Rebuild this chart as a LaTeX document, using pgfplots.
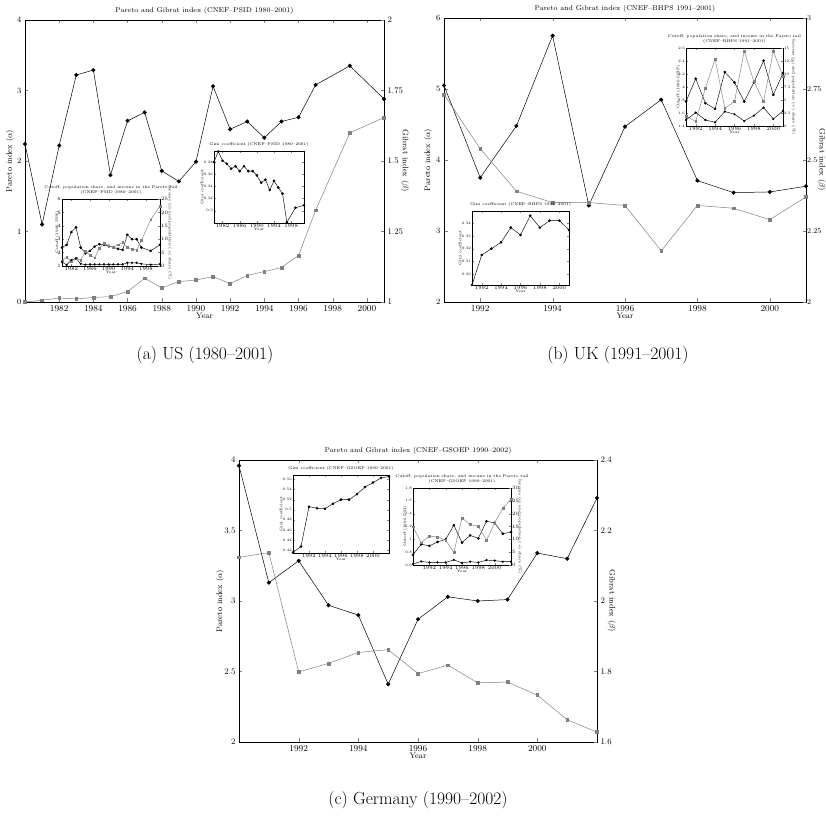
\documentclass[border=0pt]{standalone}
\usepackage{pgfplots}
\pgfplotsset{compat=1.18}

\definecolor{gib}{gray}{0.5}

\pgfplotsset{
  base/.style={
    scale only axis,
    tick align=inside,
    /pgf/number format/fixed,
    /pgf/number format/1000 sep={},
    scaled ticks=false,
    line width=0.45pt,
  },
  mainL/.style={base,
    major tick length=3.5pt,
    xticklabel style={font=\fontsize{9}{10}\selectfont},
    yticklabel style={font=\fontsize{8.5}{10}\selectfont},
    label style={font=\fontsize{8}{10}\selectfont},
    title style={font=\fontsize{7}{8}\selectfont, yshift=-4pt},
    xtick pos=both, ytick pos=left,
    xlabel={Year},
    xlabel style={yshift=5pt},
  },
  mainR/.style={base,
    major tick length=3.5pt,
    yticklabel style={font=\fontsize{8.5}{10}\selectfont},
    label style={font=\fontsize{8}{10}\selectfont},
    axis x line=none, axis y line*=right,
  },
  insetL/.style={base,
    axis background/.style={fill=white},
    major tick length=1.6pt,
    tick label style={font=\fontsize{3.6}{4}\selectfont, inner sep=1pt},
    label style={font=\fontsize{3.8}{4.5}\selectfont},
    title style={font=\fontsize{4}{4.6}\selectfont, align=center, yshift=-5pt},
    xtick pos=both,
    xlabel={Year},
    xlabel style={yshift=4pt},
    ylabel style={yshift=-4pt},
  },
  insetR/.style={base,
    major tick length=1.6pt,
    tick label style={font=\fontsize{3.6}{4}\selectfont, inner sep=1pt},
    label style={font=\fontsize{3.8}{4.5}\selectfont},
    axis x line=none, axis y line*=right,
  },
  rlabel/.style={ylabel style={at={(axis description cs:#1,0.5)}, anchor=center, rotate=180}},
  llabel/.style={ylabel style={at={(axis description cs:#1,0.5)}, anchor=center}},
  pareto/.style={black, line width=0.5pt, mark=*, mark size=1.8pt, mark options={solid, fill=black}},
  gibrat/.style={gib, line width=0.5pt, mark=square*, mark size=1.4pt, mark options={solid, fill=gib}},
  cut/.style={black, line width=0.45pt, mark=*, mark size=1.1pt, mark options={solid, fill=black}},
  inc/.style={gib, line width=0.45pt, mark=square*, mark size=0.9pt, mark options={solid, fill=gib}},
  pop/.style={black, line width=0.45pt, mark=*, mark size=0.9pt, mark options={solid, fill=black}},
}

\begin{document}
\begin{tikzpicture}
\path[use as bounding box] (0,0) rectangle (825pt,827pt);

% ---------------- (a) US ----------------
\begin{axis}[mainL, at={(25pt,525pt)}, anchor=south west, width=359pt, height=282pt,
  xmin=1980, xmax=2001, ymin=0, ymax=4,
  xtick={1982,1984,...,2000}, ytick={0,1,2,3,4},
  llabel=-0.042,
  ylabel={Pareto index ($\alpha$)},
  title={Pareto and Gibrat index (CNEF--PSID 1980--2001)}]
\addplot[pareto] coordinates {
 (1980,2.24) (1981,1.10) (1982,2.22) (1983,3.22) (1984,3.29) (1985,1.80)
 (1986,2.57) (1987,2.69) (1988,1.86) (1989,1.71) (1990,1.99) (1991,3.06)
 (1992,2.45) (1993,2.56) (1994,2.33) (1995,2.56) (1996,2.62) (1997,3.08)
 (1999,3.35) (2001,2.88)};
\end{axis}
\begin{axis}[mainR, at={(25pt,525pt)}, anchor=south west, width=359pt, height=282pt,
  xmin=1980, xmax=2001, ymin=1, ymax=2,
  ytick={1,1.25,1.5,1.75,2}, yticklabels={1,1.25,1.5,1.75,2},
  rlabel=1.058,
  ylabel={Gibrat index ($\beta$)}]
\addplot[gibrat] coordinates {
 (1980,1.000) (1981,1.006) (1982,1.014) (1983,1.011) (1984,1.016) (1985,1.019)
 (1986,1.037) (1987,1.084) (1988,1.050) (1989,1.072) (1990,1.078) (1991,1.090)
 (1992,1.065) (1993,1.094) (1994,1.108) (1995,1.122) (1996,1.165) (1997,1.325)
 (1999,1.600) (2001,1.654)};
\end{axis}

% inset: cutoff, population share and income (PSID)
\begin{axis}[insetL, at={(62pt,561pt)}, anchor=south west, width=98pt, height=67pt,
  xmin=1980, xmax=2001, ymin=1, ymax=6, ytick={1,...,6}, ytick pos=left,
  xtick={1982,1986,1990,1994,1998},
  llabel=-0.09,
  ylabel={Cutoff (1996 US\$)},
  title style={yshift=0pt},
  title={Cutoff, population share, and income in the Pareto tail\\(CNEF--PSID 1980--2001)}]
\addplot[cut] coordinates {
 (1980,2.38) (1981,2.58) (1982,3.53) (1983,3.88) (1984,2.38) (1985,1.95)
 (1986,2.13) (1987,2.45) (1988,2.63) (1989,2.58) (1990,2.50) (1991,2.40)
 (1992,2.28) (1993,2.20) (1994,3.33) (1995,3.00) (1996,3.00) (1997,2.38)
 (1999,2.13) (2001,2.58)};
\node[font=\fontsize{3.6}{4}\selectfont, anchor=south west, inner sep=0.5pt] at (rel axis cs:0,1) {$\times10^4$};
\end{axis}
\begin{axis}[insetR, at={(62pt,561pt)}, anchor=south west, width=98pt, height=67pt,
  xmin=1980, xmax=2001, ymin=0, ymax=25, ytick={0,5,...,25},
  rlabel=1.10,
  ylabel={Income (o) and population (+) share (\%)}]
\addplot[inc] coordinates {
 (1980,2.0) (1981,3.3) (1982,1.6) (1983,2.9) (1984,2.2) (1985,5.4)
 (1986,4.1) (1987,3.1) (1988,6.6) (1989,8.5) (1990,7.5) (1991,7.0)
 (1992,7.9) (1993,8.8) (1994,7.0) (1995,6.3) (1996,6.0) (1997,9.5)
 (1999,17.3) (2001,22.3)};
\addplot[pop] coordinates {
 (1980,1.5) (1981,0.4) (1982,2.2) (1983,2.9) (1984,0.8) (1985,0.5)
 (1986,0.6) (1987,0.6) (1988,0.6) (1989,0.6) (1990,0.6) (1991,0.6)
 (1992,0.6) (1993,0.6) (1994,1.2) (1995,1.2) (1996,1.2) (1997,0.8)
 (1999,0.5) (2001,0.7)};
\end{axis}

% inset: Gini coefficient (PSID)
\begin{axis}[insetL, at={(214pt,604pt)}, anchor=south west, width=90pt, height=72pt,
  xmin=1980, xmax=2001, ymin=0.28, ymax=0.398,
  xtick={1982,1986,1990,1994,1998}, ytick={0.3,0.32,0.34,0.36,0.38},
  yticklabels={0.3,0.32,0.34,0.36,0.38},
  ylabel={Gini coefficient},
  title={Gini coefficient (CNEF--PSID 1980--2001)}]
\addplot[cut] coordinates {
 (1980,0.380) (1981,0.397) (1982,0.382) (1983,0.377) (1984,0.369) (1985,0.373)
 (1986,0.365) (1987,0.373) (1988,0.365) (1989,0.365) (1990,0.358) (1991,0.346)
 (1992,0.351) (1993,0.334) (1994,0.349) (1995,0.338) (1996,0.328) (1997,0.281)
 (1999,0.305) (2001,0.309)};
\end{axis}

% ---------------- (b) UK ----------------
\begin{axis}[mainL, at={(444pt,525pt)}, anchor=south west, width=362pt, height=284pt,
  xmin=1991, xmax=2001, ymin=2, ymax=6,
  xtick={1992,1994,...,2000}, ytick={2,3,4,5,6},
  llabel=-0.044,
  ylabel={Pareto index ($\alpha$)},
  title={Pareto and Gibrat index (CNEF--BHPS 1991--2001)}]
\addplot[pareto] coordinates {
 (1991,5.05) (1992,3.75) (1993,4.48) (1994,5.75) (1995,3.36) (1996,4.47)
 (1997,4.85) (1998,3.71) (1999,3.54) (2000,3.55) (2001,3.63)};
\end{axis}
\begin{axis}[mainR, at={(444pt,525pt)}, anchor=south west, width=362pt, height=284pt,
  xmin=1991, xmax=2001, ymin=2, ymax=3,
  ytick={2,2.25,2.5,2.75,3}, yticklabels={2,2.25,2.5,2.75,3},
  yticklabel style={font=\fontsize{7.5}{9}\selectfont, inner sep=1pt},
  rlabel=1.043,
  ylabel={Gibrat index ($\beta$)}]
\addplot[gibrat] coordinates {
 (1991,2.73) (1992,2.54) (1993,2.39) (1994,2.35) (1995,2.35) (1996,2.34)
 (1997,2.18) (1998,2.34) (1999,2.33) (2000,2.29) (2001,2.37)};
\end{axis}

% inset: cutoff, population share and income (BHPS)
\begin{axis}[insetL, at={(686pt,701pt)}, anchor=south west, width=97pt, height=78pt,
  xmin=1991, xmax=2001, ymin=1.4, ymax=2.6, ytick={1.4,1.6,...,2.6}, ytick pos=left,
  yticklabels={1.4,1.6,1.8,2,2.2,2.4,2.6},
  xtick={1992,1994,...,2000},
  llabel=-0.12,
  ylabel={Cutoff (1996 GBP)},
  title style={yshift=0pt},
  title={Cutoff, population share, and income in the Pareto tail\\(CNEF--BHPS 1991--2001)}]
\addplot[cut] coordinates {
 (1991,1.776) (1992,2.127) (1993,1.751) (1994,1.663) (1995,2.230) (1996,2.070)
 (1997,1.776) (1998,2.070) (1999,2.405) (2000,1.879) (2001,2.214)};
\node[font=\fontsize{3.6}{4}\selectfont, anchor=south west, inner sep=0.5pt] at (rel axis cs:0,1) {$\times10^4$};
\end{axis}
\begin{axis}[insetR, at={(686pt,701pt)}, anchor=south west, width=97pt, height=78pt,
  xmin=1991, xmax=2001, ymin=0, ymax=15, ytick={0,2.5,...,15},
  yticklabels={0,2.5,5,7.5,10,12.5,15},
  rlabel=1.11,
  ylabel={Income (o) and population (+) share (\%)}]
\addplot[inc] coordinates {
 (1991,1.93) (1992,0.84) (1993,7.28) (1994,12.89) (1995,3.41) (1996,4.70)
 (1997,14.37) (1998,8.57) (1999,4.70) (2000,14.37) (2001,9.54)};
\addplot[pop] coordinates {
 (1991,1.16) (1992,2.58) (1993,1.16) (1994,0.71) (1995,2.77) (1996,2.26)
 (1997,0.97) (1998,2.00) (1999,3.54) (2000,1.35) (2001,2.90)};
\end{axis}

% inset: Gini coefficient (BHPS)
\begin{axis}[insetL, at={(472pt,542pt)}, anchor=south west, width=97pt, height=74pt,
  xmin=1991, xmax=2001, ymin=0.2913, ymax=0.3497,
  xtick={1992,1994,...,2000}, ytick={0.30,0.31,0.32,0.33,0.34},
  yticklabels={0.30,0.31,0.32,0.33,0.34},
  ylabel={Gini coefficient},
  title={Gini coefficient (CNEF--BHPS 1991--2001)}]
\addplot[cut] coordinates {
 (1991,0.2913) (1992,0.315) (1993,0.320) (1994,0.325) (1995,0.3366) (1996,0.3308)
 (1997,0.346) (1998,0.3366) (1999,0.3421) (2000,0.3421) (2001,0.3347)};
\end{axis}

% ---------------- (c) Germany ----------------
\begin{axis}[mainL, at={(239pt,85pt)}, anchor=south west, width=358pt, height=282pt,
  xmin=1990, xmax=2002, ymin=2, ymax=4,
  xtick={1992,1994,...,2000}, ytick={2,2.5,3,3.5,4},
  yticklabels={2,2.5,3,3.5,4},
  llabel=-0.053,
  ylabel={Pareto index ($\alpha$)},
  title={Pareto and Gibrat index (CNEF--GSOEP 1990--2002)}]
\addplot[pareto] coordinates {
 (1990,3.96) (1991,3.13) (1992,3.285) (1993,2.97) (1994,2.90) (1995,2.41)
 (1996,2.87) (1997,3.03) (1998,3.00) (1999,3.01) (2000,3.34) (2001,3.30) (2002,3.73)};
\end{axis}
\begin{axis}[mainR, at={(239pt,85pt)}, anchor=south west, width=358pt, height=282pt,
  xmin=1990, xmax=2002, ymin=1.6, ymax=2.4,
  ytick={1.6,1.8,2,2.2,2.4}, yticklabels={1.6,1.8,2,2.2,2.4},
  rlabel=1.041,
  ylabel={Gibrat index ($\beta$)}]
\addplot[gibrat] coordinates {
 (1990,2.124) (1991,2.137) (1992,1.799) (1993,1.823) (1994,1.854) (1995,1.862)
 (1996,1.794) (1997,1.818) (1998,1.768) (1999,1.770) (2000,1.733) (2001,1.663) (2002,1.628)};
\end{axis}

% inset: Gini coefficient (GSOEP)
\begin{axis}[insetL, at={(293pt,274pt)}, anchor=south west, width=96pt, height=78pt,
  xmin=1990, xmax=2002, ymin=0.414, ymax=0.569,
  xtick={1992,1994,...,2000}, ytick={0.42,0.44,...,0.56},
  yticklabels={0.42,0.44,0.46,0.48,0.5,0.52,0.54,0.56},
  ylabel={Gini coefficient},
  title={Gini coefficient (CNEF--GSOEP 1990--2001)}]
\addplot[cut] coordinates {
 (1990,0.415) (1991,0.427) (1992,0.506) (1993,0.503) (1994,0.502) (1995,0.512)
 (1996,0.520) (1997,0.520) (1998,0.531) (1999,0.545) (2000,0.554) (2001,0.563) (2002,0.566)};
\end{axis}

% inset: cutoff, population share and income (GSOEP)
\begin{axis}[insetL, at={(413pt,262pt)}, anchor=south west, width=98pt, height=77pt,
  xmin=1990, xmax=2002, ymin=0.6, ymax=1.8, ytick={0.6,0.8,...,1.8}, ytick pos=left,
  yticklabels={0.6,0.8,1,1.2,1.4,1.6,1.8},
  xtick={1992,1994,...,2000},
  llabel=-0.12,
  ylabel={Cutoff (1996 DM)},
  title style={yshift=0pt},
  title={Cutoff, population share, and income in the Pareto tail\\(CNEF--GSOEP 1990--2001)}]
\addplot[cut] coordinates {
 (1990,0.759) (1991,0.923) (1992,0.898) (1993,0.959) (1994,1.000) (1995,1.220)
 (1996,0.949) (1997,1.062) (1998,1.015) (1999,1.282) (2000,1.256) (2001,1.087) (2002,1.113)};
\node[font=\fontsize{3.6}{4}\selectfont, anchor=south west, inner sep=0.5pt] at (rel axis cs:0,1) {$\times10^4$};
\end{axis}
\begin{axis}[insetR, at={(413pt,262pt)}, anchor=south west, width=98pt, height=77pt,
  xmin=1990, xmax=2002, ymin=0, ymax=30, ytick={0,5,...,30},
  rlabel=1.09,
  ylabel={Income (o) and population (+) share (\%)}]
\addplot[inc] coordinates {
 (1990,14.9) (1991,8.7) (1992,11.3) (1993,10.9) (1994,9.7) (1995,4.9)
 (1996,18.3) (1997,15.8) (1998,15.1) (1999,9.6) (2000,16.4) (2001,22.2) (2002,25.6)};
\addplot[pop] coordinates {
 (1990,0.4) (1991,1.4) (1992,1.0) (1993,1.0) (1994,1.0) (1995,2.0)
 (1996,0.8) (1997,1.3) (1998,1.0) (1999,1.9) (2000,1.7) (2001,1.3) (2002,1.3)};
\end{axis}

% ---------------- captions ----------------
\node[font=\fontsize{17.5}{20}\selectfont] at (205pt,472pt) {(a) US (1980--2001)};
\node[font=\fontsize{17.5}{20}\selectfont] at (618pt,472pt) {(b) UK (1991--2001)};
\node[font=\fontsize{17.5}{20}\selectfont] at (418pt,27pt) {(c) Germany (1990--2002)};
\end{tikzpicture}
\end{document}
